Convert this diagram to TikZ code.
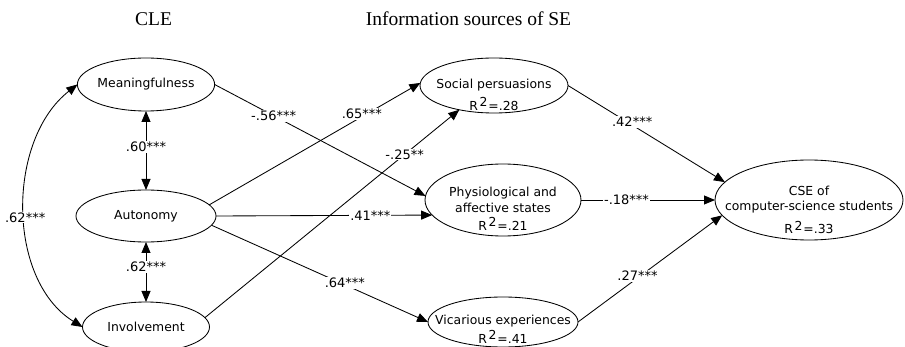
\documentclass[tikz,border=0pt]{standalone}
\usepackage{fontspec}
\setmainfont{DejaVu Sans}
\newfontfamily\titlefont{Liberation Serif}
\usetikzlibrary{shapes.geometric,arrows.meta}
\newcommand\Rsq[1]{R\hspace{1.5pt}\raisebox{3.5pt}{2}\hspace{1pt}=#1}
\begin{document}
\begin{tikzpicture}[x=1pt,y=-1pt,
  ell/.style={draw, shape=ellipse, inner sep=0pt, outer sep=0pt, line width=0.85pt, font=\fontsize{12.4}{14}\selectfont},
  txt/.style={anchor=base, inner sep=0pt, font=\fontsize{12.4}{14}\selectfont},
  lbl/.style={fill=white, inner sep=1pt, font=\fontsize{13}{15}\selectfont},
  arr/.style={line width=0.85pt, -{Triangle[length=11pt,width=9pt]}},
  darr/.style={line width=0.85pt, {Triangle[length=11pt,width=9pt]}-{Triangle[length=11pt,width=9pt]}},
  ttl/.style={anchor=base, inner sep=0pt, font=\titlefont\fontsize{19.5}{22}\selectfont}]
\useasboundingbox (0,0) rectangle (905,347);

% titles
\node[ttl] (tcle) at (153.5,26) {CLE};
\node[ttl] (tinfo) at (468.5,26) {Information sources of SE};

% CLE ellipses
\node[ell, minimum width=132pt, minimum height=53pt] (mean) at (146,84.5) {Meaningfulness};
\node[ell, minimum width=140pt, minimum height=52pt] (aut) at (146,216) {Autonomy};
\node[ell, minimum width=127pt, minimum height=50pt] (inv) at (146,327) {Involvement};

% sources
\node[ell, minimum width=148pt, minimum height=55pt] (sp) at (494,85.5) {};
\node[txt] (sp1) at (494,89) {Social persuasions};
\node[txt] (sp2) at (494,110.5) {\Rsq{.28}};

\node[ell, minimum width=156pt, minimum height=72pt] (ph) at (503,200) {};
\node[txt] (ph1) at (503,197) {Physiological and};
\node[txt] (ph2) at (503,212.5) {affective states};
\node[txt] (ph3) at (503,230.5) {\Rsq{.21}};

\node[ell, minimum width=150pt, minimum height=50pt] (vic) at (503,322) {};
\node[txt] (vic1) at (503,324) {Vicarious experiences};
\node[txt] (vic2) at (503,343) {\Rsq{.41}};

\node[ell, minimum width=188pt, minimum height=80pt] (cse) at (809,200) {};
\node[txt] (cse1) at (809,196) {CSE of};
\node[txt] (cse2) at (809,210.5) {computer-science students};
\node[txt] (cse3) at (809,234) {\Rsq{.33}};

% correlations
\draw[darr] (mean.south) -- node[lbl, pos=0.456] (l60) {.60***} (aut.north);
\draw[darr] (aut.south) -- node[lbl, pos=0.42] (l62a) {.62***} (inv.north);
\draw[darr] (mean.west) .. controls (6.5,140) and (6.5,280) .. node[lbl, pos=0.53] (l62b) {.62***} (inv.west);

% paths
\draw[arr] (mean.east) -- node[lbl, pos=0.28] (l56) {-.56***} (ph.177);
\draw[arr] (aut.10.5) -- node[lbl, pos=0.723, yshift=3pt] (l65) {.65***} (sp.178);
\draw[arr] (inv.9.7) -- node[lbl, pos=0.785] (l25) {-.25**} (sp.215.8);
\draw[arr] (aut.east) -- node[lbl, pos=0.714] (l41) {.41***} (ph.192.8);
\draw[arr] (aut.-8.6) -- node[lbl, pos=0.616, yshift=2pt] (l64) {.64***} (vic.west);
\draw[arr] (sp.east) -- node[lbl, pos=0.409, yshift=3pt] (l42) {.42***} (cse.168.3);
\draw[arr] (ph.east) -- node[lbl, pos=0.34] (l18) {-.18***} (cse.west);
\draw[arr] (vic.east) -- node[lbl, pos=0.413, yshift=2pt] (l27) {.27***} (cse.190.8);
\end{tikzpicture}
\end{document}
